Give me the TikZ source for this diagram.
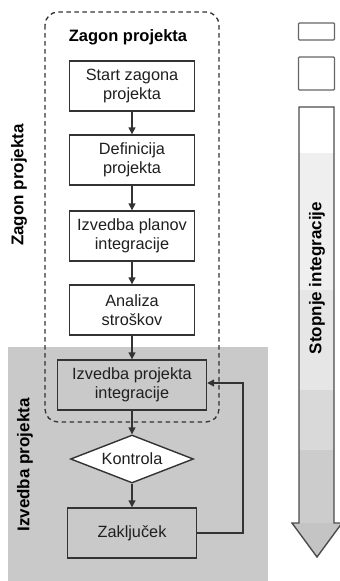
\documentclass[tikz,border=0pt]{standalone}
\usepackage{fontspec}
\setmainfont{Liberation Sans}
\usetikzlibrary{arrows.meta,shapes.geometric}
\definecolor{bggray}{HTML}{C9C9C9}
\definecolor{lnc}{HTML}{333333}
\definecolor{bandA}{HTML}{EFEFEF}
\definecolor{bandB}{HTML}{E6E6E6}
\definecolor{bandC}{HTML}{D9D9D9}
\definecolor{bandD}{HTML}{CCCCCC}
\definecolor{bandE}{HTML}{C4C4C4}
\begin{document}
\begin{tikzpicture}[x=1pt,y=-1pt,
  procbox/.style={draw=lnc,line width=1.4pt,fill=white,align=center,inner sep=0pt,
    minimum width=125pt,minimum height=50pt,font=\fontsize{16.3}{19.5}\selectfont,text=black!88},
  graybox/.style={procbox,fill=bggray},
  decbox/.style={draw=lnc,line width=1.4pt,fill=white,shape=diamond,aspect=2.5,inner sep=0pt,
    minimum width=123pt,minimum height=48pt,font=\fontsize{16.3}{19.5}\selectfont,text=black!88},
  flow/.style={draw=lnc,line width=1.4pt,-{Triangle[length=7pt,width=7pt]}},
  heading/.style={font=\bfseries\fontsize{16.5}{19}\selectfont},
  sidelabel/.style={rotate=90,font=\bfseries\fontsize{17}{19}\selectfont},
  legbox/.style={draw=black!60,line width=1.4pt,fill=white,rounded corners=1pt,inner sep=0pt}]
\useasboundingbox (0,0) rectangle (340,581);
% gray background of execution phase
\fill[bggray] (8,347) rectangle (268,581);
% dashed region
\draw[lnc,line width=1.3pt,dash pattern=on 4.5pt off 3.5pt,rounded corners=13pt] (45,12) rectangle (219,422);
\node[heading] (tz) at (128,37) {Zagon projekta};
% process boxes
\node[procbox] (b1) at (132,86) {Start zagona\\projekta};
\node[procbox] (b2) at (132,160) {Definicija\\projekta};
\node[procbox] (b3) at (132,236) {Izvedba planov\\integracije};
\node[procbox] (b4) at (132,310) {Analiza\\stroškov};
\node[graybox,minimum width=149pt] (b5) at (132,385) {Izvedba projekta\\integracije};
\node[decbox] (d1) at (132,459) {Kontrola};
\node[graybox,minimum width=129pt] (b6) at (132,533) {Zaključek};
\draw[flow] (b1) -- (b2);
\draw[flow] (b2) -- (b3);
\draw[flow] (b3) -- (b4);
\draw[flow] (b4) -- (b5);
\draw[flow] (b5) -- (d1);
\draw[flow] (d1) -- (b6);
\coordinate (fbr) at (243,533);
\coordinate (fbt) at (243,383);
\draw[flow] (b6.east |- fbr) -- (fbr) -- (fbt) -- (b5.east |- fbt);
% side labels
\node[sidelabel] (lz) at (19,185) {Zagon projekta};
\node[sidelabel] (li) at (25,465) {Izvedba projekta};
% legend boxes
\node[legbox,minimum width=36pt,minimum height=17pt] (lg1) at (316.5,31.5) {};
\node[legbox,minimum width=36pt,minimum height=33pt] (lg2) at (316.5,73.5) {};
% big arrow
\begin{scope}
\clip (299,107) -- (334,107) -- (334,523) -- (342,523) -- (317,557) -- (292,523) -- (299,523) -- cycle;
\fill[white] (280,100) rectangle (345,153);
\fill[bandA] (280,153) rectangle (345,290);
\fill[bandB] (280,290) rectangle (345,390);
\fill[bandC] (280,390) rectangle (345,450);
\fill[bandD] (280,450) rectangle (345,523);
\fill[bandE] (280,523) rectangle (345,560);
\end{scope}
\draw[black!70,line width=1.4pt,line join=miter] (299,107) -- (334,107) -- (334,523) -- (342,523) -- (317,557) -- (292,523) -- (299,523) -- cycle;
\node[sidelabel] (ls) at (317,278) {Stopnje integracije};
\end{tikzpicture}
\end{document}
